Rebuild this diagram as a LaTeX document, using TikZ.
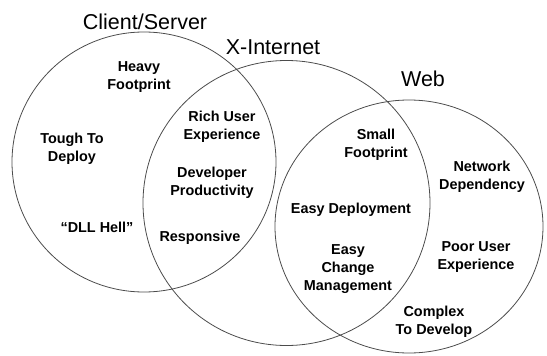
\documentclass[tikz,border=0pt]{standalone}
\usepackage{fontspec}
\setmainfont{Liberation Sans}
\usetikzlibrary{shapes.geometric}
\definecolor{ringgray}{gray}{0.3}

\begin{document}
\begin{tikzpicture}[
    x=1pt, y=-1pt,
    ring/.style ={ellipse, draw=ringgray, line width=0.8pt, inner sep=0pt},
    title/.style={font=\fontsize{21.5}{24}\selectfont, inner sep=0pt},
    item/.style ={font=\bfseries\fontsize{14.4}{18}\selectfont, align=center, inner sep=0pt}
]
\useasboundingbox (0,0) rectangle (547,356);

% ========== Rings ==========
\node[ring, minimum width=264pt, minimum height=260pt] (cs)  at (144,162) {};
\node[ring, minimum width=287pt, minimum height=285pt] (xin) at (286.5,203) {};
\node[ring, minimum width=268pt, minimum height=253pt] (web) at (409,226.5) {};

% ========== Titles ==========
\node[title] (cstitle)  at (145,22) {Client/Server};
\node[title] (xintitle) at (273,47) {X-Internet};
\node[title] (webtitle) at (423,79) {Web};

% ========== Client/Server only ==========
\node[item] (heavy)  at (139,77)  {Heavy\\Footprint};
\node[item] (tough)  at (72,149)  {Tough To\\Deploy};
\node[item] (dll)    at (97,227)  {``DLL Hell''};

% ========== Client/Server + X-Internet ==========
\node[item] (rich)   at (222,127) {Rich User\\Experience};
\node[item] (devel)  at (212,183) {Developer\\Productivity};
\node[item] (resp)   at (200,238) {Responsive};

% ========== X-Internet + Web ==========
\node[item] (small)  at (376,145) {Small\\Footprint};
\node[item] (easyd)  at (351,210) {Easy Deployment};
\node[item] (easyc)  at (348,269) {Easy\\Change\\Management};

% ========== Web only ==========
\node[item] (netdep) at (482,177) {Network\\Dependency};
\node[item] (poor)   at (476,257) {Poor User\\Experience};
\node[item] (cmplx)  at (434,322) {Complex\\To Develop};

\end{tikzpicture}
\end{document}
